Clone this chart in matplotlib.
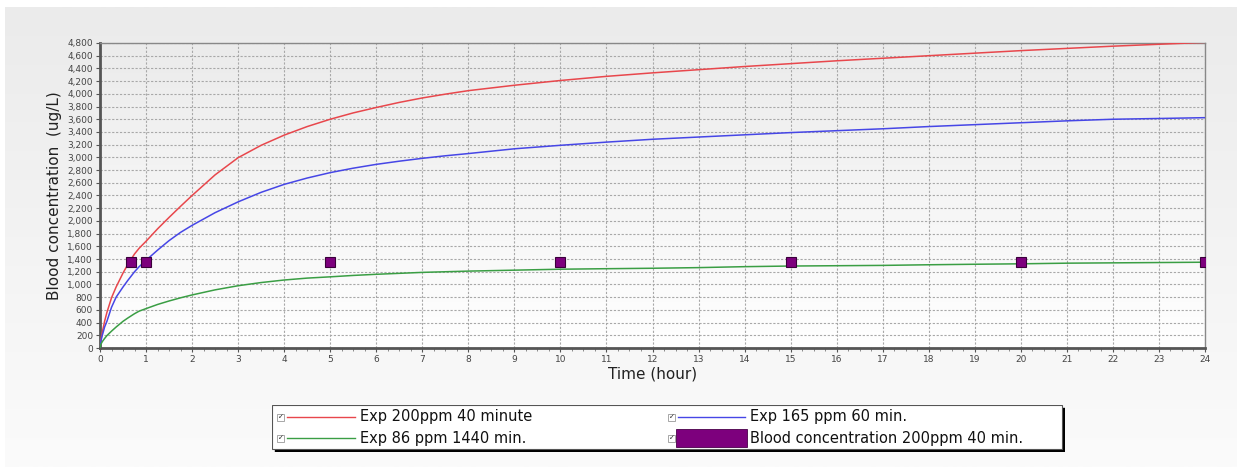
import numpy as np
from matplotlib import pyplot as plt
from matplotlib.ticker import MultipleLocator, FuncFormatter
from matplotlib.patches import Rectangle
from matplotlib.colors import LinearSegmentedColormap

# values
hours = [0, 0.02, 0.05, 0.1, 0.15, 0.25, 0.35, 0.5, 0.6, 0.75, 0.85, 1, 1.25, 1.5,
         1.75, 2, 2.5, 3, 3.5, 4, 4.5, 5, 5.5, 6, 6.5, 7, 7.5, 8, 9, 10, 11, 12,
         13, 14, 15, 16, 17, 18, 19, 20, 21, 22, 23, 24]
exp_200ppm_40min = [0, 130, 250, 420, 560, 790, 960, 1180, 1310, 1480, 1570, 1680,
                    1875, 2055, 2230, 2400, 2725, 2995, 3190, 3350, 3485, 3600, 3700,
                    3785, 3865, 3935, 3995, 4050, 4135, 4210, 4275, 4330, 4380, 4430,
                    4475, 4520, 4560, 4600, 4640, 4680, 4715, 4750, 4780, 4810]
exp_165ppm_60min = [0, 110, 200, 330, 420, 640, 800, 960, 1060, 1200, 1280, 1380,
                    1540, 1690, 1820, 1930, 2130, 2300, 2450, 2575, 2675, 2760, 2830,
                    2890, 2940, 2985, 3025, 3060, 3135, 3190, 3240, 3285, 3320, 3355,
                    3390, 3420, 3450, 3485, 3515, 3545, 3575, 3600, 3612, 3625]
exp_86ppm_1440min = [0, 60, 100, 150, 195, 265, 330, 420, 470, 540, 580, 620, 685,
                     740, 790, 835, 915, 980, 1030, 1070, 1100, 1120, 1142, 1160, 1175,
                     1190, 1200, 1210, 1225, 1240, 1248, 1255, 1265, 1280, 1290, 1295,
                     1300, 1310, 1318, 1325, 1335, 1340, 1345, 1350]
blood_hours = [0.67, 1, 5, 10, 15, 20, 24]
blood_conc = [1360, 1360, 1360, 1360, 1360, 1360, 1360]

series_labels = ["Exp 200ppm 40 minute", "Exp 165 ppm 60 min.",
                 "Exp 86 ppm 1440 min.", "Blood concentration 200ppm 40 min."]
RED, BLUE, GREEN, PURPLE = '#e8474c', '#4646e6', '#3a9e44', '#7d007d'

W, H = 1237, 467
fig = plt.figure(figsize=(W / 100, H / 100), dpi=100, facecolor='white')

# grey panel behind everything
grad = np.linspace(0, 1, 256).reshape(-1, 1)
bg = fig.add_axes([5 / W, 0, 1 - 5 / W, 1 - 7 / H], zorder=-10)
bg.imshow(grad, aspect='auto', extent=[0, 1, 0, 1], origin='upper',
          cmap=LinearSegmentedColormap.from_list('g', ['#ebebeb', '#fbfbfb']))
bg.axis('off')

ax = fig.add_axes([100 / W, 1 - 348 / H, 1105 / W, 305 / H])
ax.set_facecolor('none')
ax.imshow(grad, aspect='auto', extent=[0, 1, 0, 1], origin='upper',
          cmap=LinearSegmentedColormap.from_list('p', ['#ebebeb', '#ffffff']),
          transform=ax.transAxes, zorder=0)

ax.plot(hours, exp_200ppm_40min, color=RED, lw=1.1, zorder=3)
ax.plot(hours, exp_165ppm_60min, color=BLUE, lw=1.1, zorder=3)
ax.plot(hours, exp_86ppm_1440min, color=GREEN, lw=1.1, zorder=3)
ax.plot(blood_hours, blood_conc, ls='none', marker='s', ms=6.5, mfc=PURPLE,
        mec='#3a003a', mew=0.8, zorder=4)

ax.set_xlim(0, 24)
ax.set_ylim(0, 4800)
ax.xaxis.set_major_locator(MultipleLocator(1))
ax.xaxis.set_minor_locator(MultipleLocator(0.25))
ax.yaxis.set_major_locator(MultipleLocator(200))
ax.yaxis.set_major_formatter(FuncFormatter(lambda v, p: f"{int(v):,}"))
ax.grid(True, which='major', color='#a8a8a8', ls=(0, (2, 1.5)), lw=0.8, zorder=1)
ax.tick_params(axis='both', which='major', labelsize=6.5, colors='#555555',
               length=3, width=0.8, pad=2)
ax.tick_params(axis='x', which='minor', length=2, width=0.6, colors='#777777')
for lab in ax.get_xticklabels() + ax.get_yticklabels():
    lab.set_color('#444444')

for side in ['left', 'bottom']:
    ax.spines[side].set_color('#555555')
    ax.spines[side].set_linewidth(2)
for side in ['top', 'right']:
    ax.spines[side].set_color('#888888')
    ax.spines[side].set_linewidth(1)

ax.set_xlabel("Time (hour)", fontsize=11, color='#222222', labelpad=2)
ax.set_ylabel("Blood concentration  (ug/L)", fontsize=11, color='#222222', labelpad=4)

# legend box drawn by hand, pixel coordinates
lg = fig.add_axes([272 / W, 1 - 452 / H, 793 / W, 47 / H], zorder=5)
lg.set_xlim(0, 793)
lg.set_ylim(47, 0)
lg.axis('off')
lg.add_patch(Rectangle((3, 3), 790, 44, color='black', zorder=0))
lg.add_patch(Rectangle((0, 0), 790, 44, facecolor='white', edgecolor='#555555',
                       lw=0.8, zorder=1))
rows = [12, 33]
cols = [(5, 15, 83, 88), (396, 406, 473, 478)]
colors = [RED, BLUE, GREEN, None]
for i, label in enumerate(series_labels):
    cb, l0, l1, tx = cols[i % 2]
    y = rows[i // 2]
    lg.add_patch(Rectangle((cb, y - 3.5), 7, 7, facecolor='white', edgecolor='#999999',
                           lw=0.6, zorder=2))
    lg.text(cb + 3.5, y + 0.3, "✓", fontsize=5, ha='center', va='center',
            color='#222222', zorder=3)
    if colors[i] is not None:
        lg.plot([l0, l1], [y, y], color=colors[i], lw=1, zorder=2)
    else:
        lg.add_patch(Rectangle((l0 - 2, y - 9), l1 - l0 + 4, 18, facecolor=PURPLE,
                               edgecolor='#4a004a', lw=0.6, zorder=2))
    lg.text(tx, y, label, fontsize=10.5, va='center', ha='left', color='#111111', zorder=3)

fig.savefig('out.png', dpi=100)
